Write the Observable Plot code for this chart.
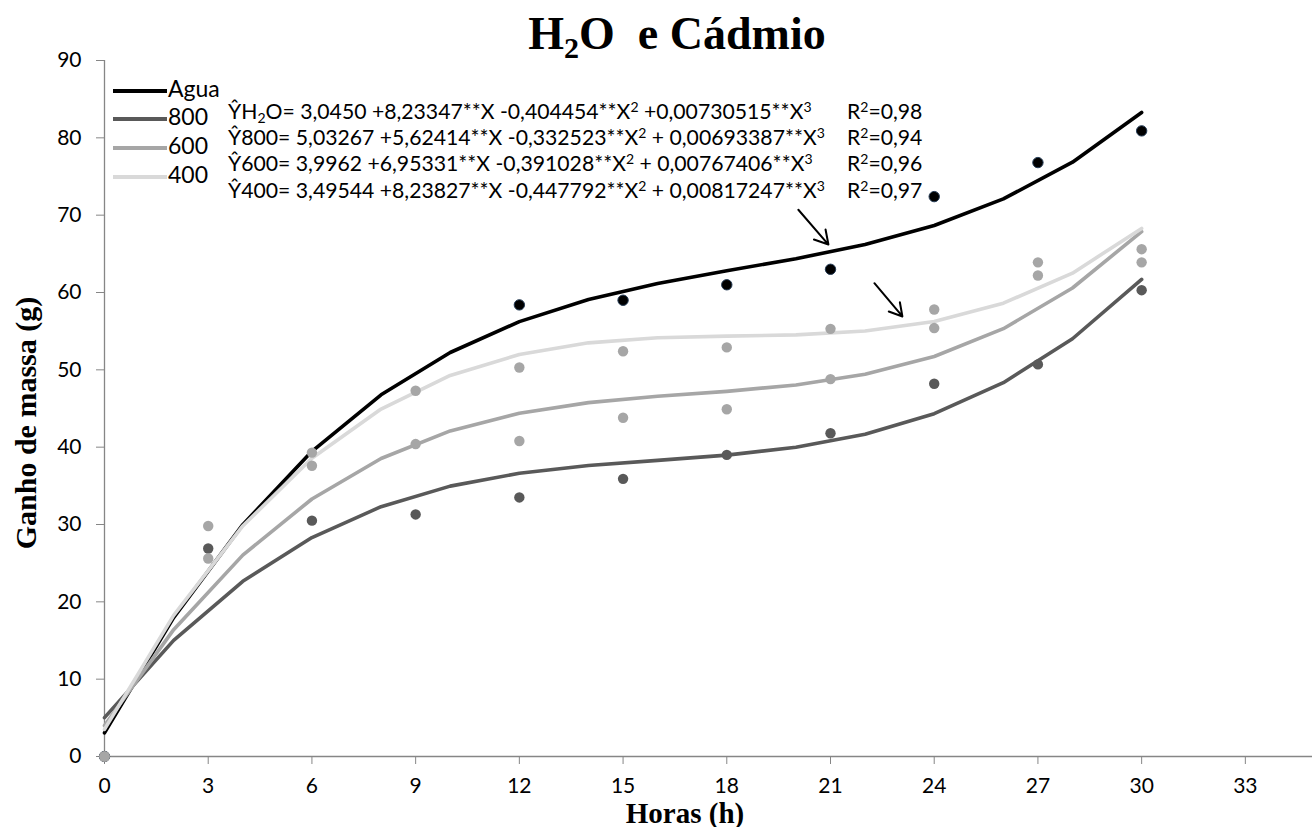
<!DOCTYPE html>
<html>
<head>
<meta charset="utf-8">
<script src="https://cdn.jsdelivr.net/npm/d3@7"></script>
<script src="https://cdn.jsdelivr.net/npm/@observablehq/plot@0.6"></script>
<style>
  html, body { margin: 0; padding: 0; background: #fff; }
  #chart { width: 1312px; height: 827px; }
  text { white-space: pre; }
</style>
</head>
<body>
<div id="chart"></div>
<script>
// ---- data ----
const seriesNames = ["Agua", "800", "600", "400"];
const xTicks = [0, 3, 6, 9, 12, 15, 18, 21, 24, 27, 30, 33];
const yTicks = [0, 10, 20, 30, 40, 50, 60, 70, 80, 90];

// fitted curves, sampled every 2 h
const fitHours = [0, 2, 4, 6, 8, 10, 12, 14, 16, 18, 20, 22, 24, 26, 28, 30];
const aguaFit = [3.05, 17.95, 29.98, 39.46, 46.77, 52.24, 56.23, 59.09, 61.16, 62.81, 64.37, 66.21, 68.67, 72.10, 76.85, 83.28];
const fit800  = [5.03, 15.01, 22.65, 28.31, 32.30, 34.96, 36.62, 37.62, 38.29, 38.97, 39.98, 41.66, 44.33, 48.34, 54.02, 61.70];
const fit600  = [4.00, 16.40, 26.04, 33.30, 38.53, 42.10, 44.39, 45.76, 46.58, 47.22, 48.04, 49.42, 51.73, 55.32, 60.58, 67.87];
const fit400  = [3.50, 18.25, 29.81, 38.57, 44.93, 49.27, 51.99, 53.49, 54.15, 54.36, 54.52, 55.03, 56.26, 58.62, 62.50, 68.29];

// observed points
const obsHours = [0, 3, 6, 9, 12, 15, 18, 21, 24, 27, 30];
const aguaObs = [0, null, null, null, 58.4, 59.0, 61.0, 63.0, 72.4, 76.8, 80.9];
const obs800  = [0, 26.9, 30.5, 31.3, 33.5, 35.9, 39.0, 41.8, 48.2, 50.7, 60.3];
const obs600  = [0, 25.6, 37.6, 40.4, 40.8, 43.8, 44.9, 48.8, 55.4, 62.2, 63.9];
const obs400  = [0, 29.8, 39.3, 47.3, 50.3, 52.4, 52.9, 55.3, 57.8, 63.9, 65.6];

const equations = [
  ["Ŷ", "H", {sub: "2"}, "O= 3,0450 +8,23347**X -0,404454**X", {sup: "2"}, " +0,00730515**X", {sup: "3"}],
  ["Ŷ800= 5,03267 +5,62414**X -0,332523**X", {sup: "2"}, " + 0,00693387**X", {sup: "3"}],
  ["Ŷ600= 3,9962 +6,95331**X -0,391028**X", {sup: "2"}, " + 0,00767406**X", {sup: "3"}],
  ["Ŷ400= 3,49544 +8,23827**X -0,447792**X", {sup: "2"}, " + 0,00817247**X", {sup: "3"}]
];
const r2Values = ["0,98", "0,94", "0,96", "0,97"];

// annotation arrows in data units (from -> to)
const arrowX1 = [20.07, 22.27];
const arrowY1 = [70.7, 61.2];
const arrowX2 = [20.94, 23.08];
const arrowY2 = [66.2, 56.9];

// ---- styles ----
const lineColor = {"Agua": "#000000", "800": "#595959", "600": "#a6a6a6", "400": "#d9d9d9"};
const dotColor  = {"Agua": "#000000", "800": "#595959", "600": "#a6a6a6", "400": "#a6a6a6"};
const axisColor = "#868686";

const fitSets = {"Agua": aguaFit, "800": fit800, "600": fit600, "400": fit400};
const obsSets = {"Agua": aguaObs, "800": obs800, "600": obs600, "400": obs400};

const fitRows = seriesNames.flatMap(s => fitHours.map((h, i) => ({s, x: h, y: fitSets[s][i]})));
const obsRows = seriesNames.flatMap(s => obsHours.map((h, i) => ({s, x: h, y: obsSets[s][i]})).filter(d => d.y != null));
const arrows = arrowX1.map((x, i) => ({x1: x, y1: arrowY1[i], x2: arrowX2[i], y2: arrowY2[i]}));

const marks = [
  Plot.ruleY([0], {stroke: axisColor, strokeWidth: 1.3}),
  Plot.ruleX([0], {stroke: axisColor, strokeWidth: 1.3}),
  Plot.axisX({ticks: xTicks, tickSize: 8, tickPadding: 14, stroke: axisColor, fill: "#000", fontSize: 21, tickFormat: d => String(d)}),
  Plot.axisY({ticks: yTicks, tickSize: 8, tickPadding: 15, stroke: axisColor, fill: "#000", fontSize: 21, tickFormat: d => String(d)})
];
for (const s of seriesNames) {
  marks.push(Plot.line(fitRows.filter(d => d.s === s), {x: "x", y: "y", stroke: lineColor[s], strokeWidth: 3.6, curve: "linear"}));
}
for (const s of seriesNames) {
  marks.push(Plot.dot(obsRows.filter(d => d.s === s), {
    x: "x", y: "y", r: 5.2, fill: dotColor[s],
    stroke: s === "Agua" ? "#243b55" : "none", strokeWidth: 1
  }));
}
marks.push(Plot.arrow(arrows, {x1: "x1", y1: "y1", x2: "x2", y2: "y2", stroke: "#000", strokeWidth: 2, headLength: 14, bend: 0}));

const chart = Plot.plot({
  width: 1312,
  height: 827,
  marginLeft: 104,
  marginRight: -2,
  marginTop: 60,
  marginBottom: 71,
  style: {fontFamily: "Lato", background: "#fff", overflow: "visible"},
  x: {domain: [0, 35], axis: null},
  y: {domain: [0, 90], axis: null},
  marks
});
document.getElementById("chart").appendChild(chart);

// ---- titles, legend, equations ----
const svg = d3.select(chart);
const serif = "'Liberation Serif', 'Times New Roman', serif";
const title = svg.append("text")
  .attr("x", 677).attr("y", 49)
  .attr("text-anchor", "middle")
  .style("font-family", serif)
  .style("font-weight", "bold").style("font-size", "46px").attr("fill", "#000");
title.append("tspan").text("H");
title.append("tspan").text("2").attr("dy", 9).style("font-size", "30px");
title.append("tspan").text("O  e Cádmio").attr("dy", -9);

svg.append("text")
  .attr("transform", "translate(36,423) rotate(-90)")
  .attr("text-anchor", "middle")
  .style("font-family", serif)
  .style("font-weight", "bold").style("font-size", "30px")
  .text("Ganho de massa (g)");

svg.append("text")
  .attr("x", 685).attr("y", 823)
  .attr("text-anchor", "middle")
  .style("font-family", serif)
  .style("font-weight", "bold").style("font-size", "29px")
  .text("Horas (h)");

const legendY = [91, 119, 148, 177];
seriesNames.forEach((s, i) => {
  svg.append("line").attr("x1", 113).attr("x2", 167).attr("y1", legendY[i]).attr("y2", legendY[i])
    .attr("stroke", lineColor[s]).attr("stroke-width", 4);
  svg.append("text").attr("x", 168).attr("y", legendY[i] + 6)
    .attr("text-anchor", "start")
    .style("font-family", "Lato").style("font-size", "23px").text(s);
});

const eqY = [118.5, 144.5, 171, 197.5];
const eqFont = "21.2px";
equations.forEach((parts, i) => {
  const t = svg.append("text").attr("x", 228).attr("y", eqY[i])
    .attr("text-anchor", "start")
    .style("font-family", "Lato").style("font-size", eqFont);
  let shift = 0;
  parts.forEach(p => {
    if (typeof p === "string") {
      t.append("tspan").text(p).attr("dy", -shift); shift = 0;
    } else if (p.sub) {
      t.append("tspan").text(p.sub).attr("dy", 4 - shift).style("font-size", "14px"); shift = 4;
    } else if (p.sup) {
      t.append("tspan").text(p.sup).attr("dy", -7 - shift).style("font-size", "14px"); shift = -7;
    }
  });
  const r = svg.append("text").attr("x", 847).attr("y", eqY[i])
    .attr("text-anchor", "start")
    .style("font-family", "Lato").style("font-size", eqFont);
  r.append("tspan").text("R");
  r.append("tspan").text("2").attr("dy", -7).style("font-size", "14px");
  r.append("tspan").text("=" + r2Values[i]).attr("dy", 7);
});
</script>
</body>
</html>
